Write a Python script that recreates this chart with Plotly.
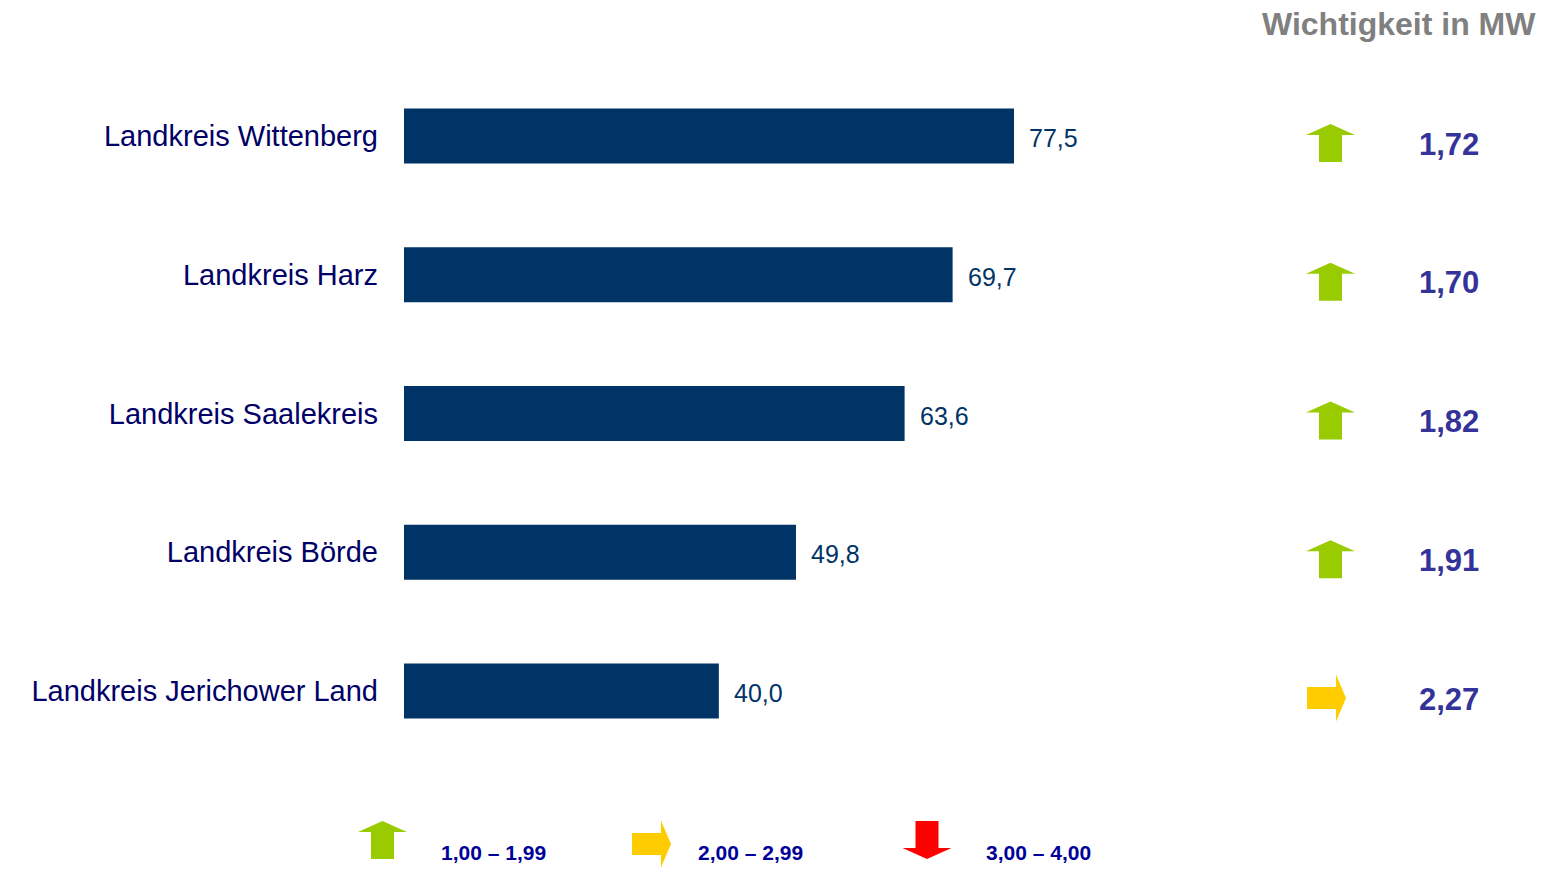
import plotly.graph_objects as go

# Data
districts = [
    "Landkreis Wittenberg",
    "Landkreis Harz",
    "Landkreis Saalekreis",
    "Landkreis Börde",
    "Landkreis Jerichower Land",
]
shares = [77.5, 69.7, 63.6, 49.8, 40.0]
importance_mw = [1.72, 1.70, 1.82, 1.91, 2.27]
legend_labels = ["1,00 – 1,99", "2,00 – 2,99", "3,00 – 4,00"]
header = "Wichtigkeit in MW"

# Canvas geometry
W, H = 1556, 872
AXIS_LEFT = 404            # pixel where the bar axis starts
PX_PER_UNIT = 7.871        # horizontal pixels per percentage point
ROW_PX = 138.75            # vertical distance between rows in pixels
FIRST_ROW_PX = 136         # pixel centre of first row

FONT = "Liberation Sans, Arial, sans-serif"
BAR_COLOR = "#003366"
GREEN, YELLOW, RED = "#99CC00", "#FFCC00", "#FF0000"

x_max = (W - AXIS_LEFT) / PX_PER_UNIT
y_top = -FIRST_ROW_PX / ROW_PX
y_bottom = (H - FIRST_ROW_PX) / ROW_PX
rows = list(range(len(districts)))


def fmt(v, d):
    return f"{v:.{d}f}".replace(".", ",")


def px_x(p):
    return p / W


def px_y(p):
    return 1 - p / H


def up_arrow(cx, cy, to_x, to_y, down=False):
    # block arrow: head 49 px wide, shaft 23 px, overall 38 px tall
    hw, sw, h, hh = 24.5, 11.5, 38, 11
    s = -1 if down else 1
    top = cy - s * h / 2
    base = top + s * hh
    bot = cy + s * h / 2
    pts = [(cx - hw, base), (cx, top), (cx + hw, base), (cx + sw, base),
           (cx + sw, bot), (cx - sw, bot), (cx - sw, base)]
    return "M " + " L ".join(f"{to_x(x)},{to_y(y)}" for x, y in pts) + " Z"


def right_arrow(left, cy, to_x, to_y):
    # shaft 29x22 px, head 10 px long and 47 px tall
    sl, sr, tip, sh, hh = left, left + 29, left + 39, 11, 23.5
    pts = [(sl, cy - sh), (sr, cy - sh), (sr, cy - hh), (tip, cy),
           (sr, cy + hh), (sr, cy + sh), (sl, cy + sh)]
    return "M " + " L ".join(f"{to_x(x)},{to_y(y)}" for x, y in pts) + " Z"


fig = go.Figure()
fig.add_trace(go.Bar(
    x=shares, y=rows, orientation="h",
    marker=dict(color=BAR_COLOR, line=dict(width=0)),
    width=55 / ROW_PX, hoverinfo="skip",
))

annotations = []
shapes = []

# value labels beside the bars
for i, v in enumerate(shares):
    annotations.append(dict(
        x=v, y=i + 2 / ROW_PX, xref="x", yref="y", text=fmt(v, 1),
        showarrow=False, xanchor="left", yanchor="middle", xshift=13,
        font=dict(family=FONT, size=25, color="#003366"),
    ))

# trend arrows and importance values in the right-hand column
for i, m in enumerate(importance_mw):
    arrow_y = lambda p, i=i: i + p / ROW_PX
    if m < 2:
        path = up_arrow(1330.5, 7, px_x, arrow_y)
        color = GREEN
    elif m < 3:
        path = right_arrow(1307, 7, px_x, arrow_y)
        color = YELLOW
    else:
        path = up_arrow(1330.5, 7, px_x, arrow_y, down=True)
        color = RED
    shapes.append(dict(type="path", path=path, xref="paper", yref="y",
                       fillcolor=color, line=dict(width=0), layer="above"))
    annotations.append(dict(
        x=px_x(1449), y=i + 8 / ROW_PX, xref="paper", yref="y",
        text=fmt(m, 2), showarrow=False, xanchor="center", yanchor="middle",
        font=dict(family=FONT, size=31, color="#333399", weight="bold"),
    ))

# column header
annotations.append(dict(
    x=px_x(1538), y=px_y(24), xref="paper", yref="paper", text=header,
    showarrow=False, xanchor="right", yanchor="middle",
    font=dict(family=FONT, size=32, color="#808080", weight="bold"),
))

# legend row at the bottom
shapes.append(dict(type="path", path=up_arrow(382.5, 840, px_x, px_y),
                   xref="paper", yref="paper", fillcolor=GREEN, line=dict(width=0)))
shapes.append(dict(type="path", path=right_arrow(632, 844, px_x, px_y),
                   xref="paper", yref="paper", fillcolor=YELLOW, line=dict(width=0)))
shapes.append(dict(type="path", path=up_arrow(927, 840, px_x, px_y, down=True),
                   xref="paper", yref="paper", fillcolor=RED, line=dict(width=0)))
for lx, label in zip([439, 696, 984], legend_labels):
    annotations.append(dict(
        x=px_x(lx), y=px_y(852), xref="paper", yref="paper", text=label,
        showarrow=False, xanchor="left", yanchor="middle",
        font=dict(family=FONT, size=21, color="#000099", weight="bold"),
    ))

fig.update_layout(
    width=W, height=H,
    margin=dict(l=0, r=0, t=0, b=0),
    paper_bgcolor="white", plot_bgcolor="white",
    showlegend=False,
    xaxis=dict(domain=[AXIS_LEFT / W, 1], range=[0, x_max], visible=False,
               fixedrange=True),
    yaxis=dict(range=[y_bottom, y_top], tickvals=rows, ticktext=districts,
               showgrid=False, zeroline=False, showline=False, ticks="",
               ticklabelstandoff=25,
               tickfont=dict(family=FONT, size=29, color="#000066"),
               fixedrange=True),
    annotations=annotations,
    shapes=shapes,
)

fig.write_html("out.html")
